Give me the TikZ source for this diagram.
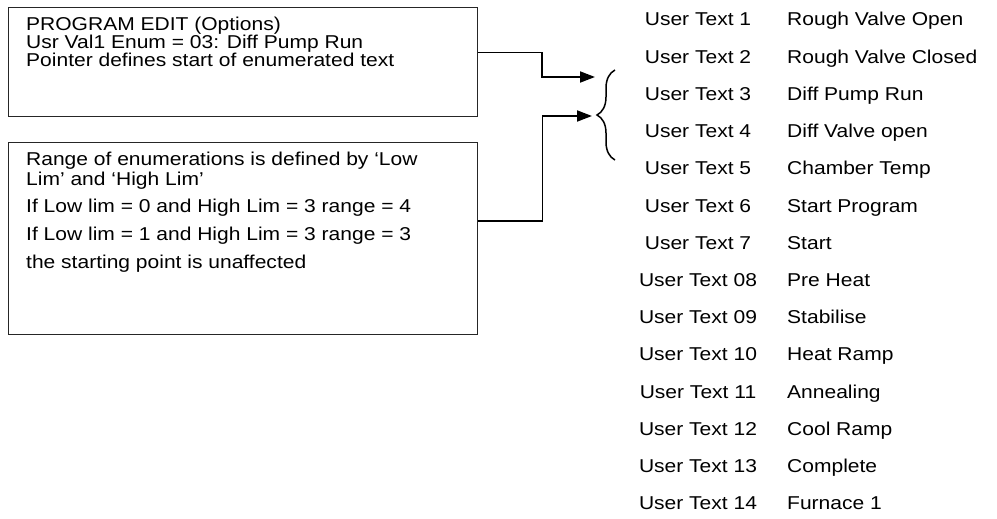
\documentclass[tikz,border=0pt]{standalone}
\usepackage{fontspec}
\setmainfont{Liberation Sans}[FakeStretch=1.13]
\usetikzlibrary{arrows.meta, positioning, decorations.pathreplacing}

\begin{document}
\begin{tikzpicture}[
    x=1pt, y=-1pt,
    font=\fontsize{18.6}{17.3}\selectfont,
    infobox/.style={rectangle, draw=black!85, line width=1pt, inner sep=0pt, anchor=north west},
    boxline/.style={anchor=base west, inner sep=0pt},
    usertext/.style={anchor=base, inner sep=0pt},
    userlabel/.style={anchor=base west, inner sep=0pt},
    arrow/.style={-{Triangle[length=15pt, width=11pt]}, line width=1.8pt, draw=black},
    brace/.style={decorate, decoration={brace, amplitude=18pt}, line width=1.5pt}
]
\useasboundingbox (0,0) rectangle (997,519);

% option box
\node[infobox, minimum width=469pt, minimum height=109pt] (prog) at (8,7) {};
\node[boxline] (prog1) at (26,31) {PROGRAM EDIT (Options)};
\node[boxline] (prog2) at (26,48.8) {Usr Val1 Enum = 03: Diff Pump Run};
\node[boxline] (prog3) at (26,66.6) {Pointer defines start of enumerated text};

% range box
\node[infobox, minimum width=469pt, minimum height=192pt] (range) at (8,142) {};
\node[boxline] (range1) at (26,165) {Range of enumerations is defined by ‘Low};
\node[boxline] (range2) at (26,185) {Lim’ and ‘High Lim’};
\node[boxline] (range3) at (26,212.5) {If Low lim = 0 and High Lim = 3 range = 4};
\node[boxline] (range4) at (26,240.5) {If Low lim = 1 and High Lim = 3 range = 3};
\node[boxline] (range5) at (26,268.5) {the starting point is unaffected};

% enumerated user texts
\foreach \num/\lbl [count=\i] in {1/Rough Valve Open, 2/Rough Valve Closed, 3/Diff Pump Run,
    4/Diff Valve open, 5/Chamber Temp, 6/Start Program, 7/Start, 08/Pre Heat, 09/Stabilise,
    10/Heat Ramp, 11/Annealing, 12/Cool Ramp, 13/Complete, 14/Furnace 1} {
  \node[usertext] (ut\i) at (698, {26+37.2*(\i-1)}) {User Text \num};
  \node[userlabel] (ul\i) at (787, {26+37.2*(\i-1)}) {\lbl};
}

% brace and pointers
\coordinate (bracetop) at (615,70);
\coordinate (bracebot) at (615,160);
\coordinate (bend1) at (542,77);
\coordinate (tip1) at (595,77);
\coordinate (bend2) at (542.5,116);
\coordinate (tip2) at (592,116);

\draw[brace] (bracebot) -- (bracetop);
\draw[arrow] ([yshift=9.5pt]prog.east) -| (bend1) -- (tip1);
\draw[arrow] ([yshift=17.3pt]range.east) -| (bend2) -- (tip2);

\end{tikzpicture}
\end{document}
